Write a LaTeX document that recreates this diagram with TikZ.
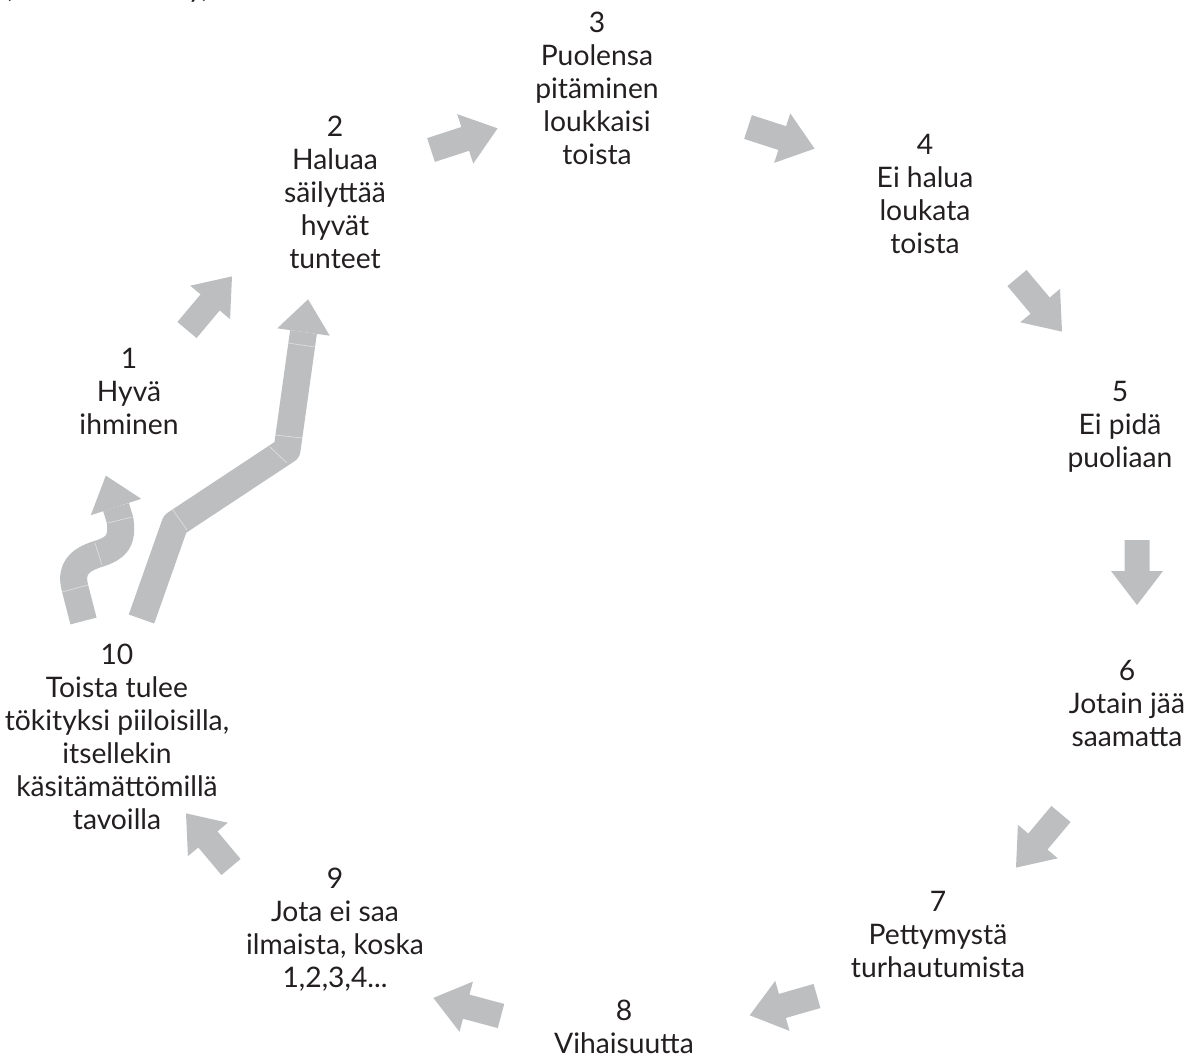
\documentclass[tikz,border=0pt]{standalone}
\usepackage{fontspec}
\setmainfont{Lato}

\definecolor{arrowgray}{RGB}{188,190,192}
\definecolor{textblack}{RGB}{35,31,32}

\tikzset{
  lbl/.style={align=center, inner sep=0.75pt, text=textblack, font=\fontsize{21.2}{24.75}\selectfont},
  shaft/.style={draw=arrowgray, line width=20.25pt, line join=round},
  seam/.style={draw=white, opacity=0.5, line width=0.5pt}
}

% block arrow: [length]{tail}{angle}
\newcommand{\blockarrow}[3][70]{%
  \fill[arrowgray, shift={(#2)}, rotate=#3] (0,-12.5) -- (#1-34,-12.5) -- (#1-34,-26) -- (#1,0) -- (#1-34,26) -- (#1-34,12.5) -- (0,12.5) -- cycle;}
% arrow head only: {base}{angle}
\newcommand{\blockhead}[2]{%
  \fill[arrowgray, shift={(#1)}, rotate=#2] (0,-26.5) -- (33,0) -- (0,26.5) -- cycle;}

\begin{document}
\begin{tikzpicture}[x=0.75pt,y=0.75pt,yscale=-1,xscale=1]
\useasboundingbox (0,0) rectangle (1189,1059);

% cut-off caption at the top
\node[lbl, anchor=base west] (src) at (3,-2) {(\hspace{132pt}y)};

% steps
\node[lbl] (n1) at (129,391) {1\\Hyvä\\ihminen};
\node[lbl] (n2) at (335,192) {2\\Haluaa\\säilyttää\\hyvät\\tunteet};
\node[lbl] (n3) at (597,88) {3\\Puolensa\\pitäminen\\loukkaisi\\toista};
\node[lbl] (n4) at (925,194) {4\\Ei halua\\loukata\\toista};
\node[lbl] (n5) at (1120,427) {5\\Ei pidä\\puoliaan};
\node[lbl] (n6) at (1127,703) {6\\Jotain jää\\saamatta};
\node[lbl] (n7) at (938,934) {7\\Pettymystä\\turhautumista};
\node[lbl, anchor=south] (n8) at (624,1055) {8\\Vihaisuutta};
\node[lbl] (n9) at (335,930) {9\\Jota ei saa\\ilmaista, koska\\1,2,3,4...};
\node[lbl] (n10) at (117,737) {10\\Toista tulee\\tökityksi piiloisilla,\\itsellekin\\käsitämättömillä\\tavoilla};

% arrows round the circle
\coordinate (a12) at (187,330);
\coordinate (a23) at (431,150);
\coordinate (a34) at (748,127);
\coordinate (a45) at (1017,278);
\coordinate (a56) at (1137,540);
\coordinate (a67) at (1061,814);
\coordinate (a78) at (817,996);
\coordinate (a89) at (501,1016);
\coordinate (a910) at (231,867);
\blockarrow{a12}{-50}
\blockarrow{a23}{-18}
\blockarrow{a34}{18}
\blockarrow{a45}{50}
\blockarrow[65]{a56}{90}
\blockarrow{a67}{130}
\blockarrow{a78}{164}
\blockarrow{a89}{195}
\blockarrow{a910}{230}

% 10 -> 1, bent arrow
\coordinate (s0) at (83.5,621);
\coordinate (s1) at (75,588);
\coordinate (s2) at (98,554);
\coordinate (s3) at (120,520);
\coordinate (s4) at (116,507);
\draw[shaft] (s0) -- (s1) .. controls (70,569) and (79,560) .. (s2) .. controls (117,548) and (123,541) .. (s3) -- (s4);
\blockhead{s4}{-108}

% 10 -> 2, long arrow
\coordinate (l0) at (141.5,619);
\coordinate (l1) at (175,524);
\coordinate (l2) at (287,450);
\coordinate (l3) at (303.5,332);
\draw[shaft] (l0) -- (l1) -- (l2) -- (l3);
\blockhead{l3}{-82}

% seams
\draw[seam] (62,592) -- (88,585);
\draw[seam] (95,543) -- (102,565);
\draw[seam] (108,523) -- (132,517);
\draw[seam] (173,510) -- (187,530);
\draw[seam] (270,447) -- (287,463);
\draw[seam] (275,435) -- (302,438);
\draw[seam] (288,343) -- (315,347);
\end{tikzpicture}
\end{document}
